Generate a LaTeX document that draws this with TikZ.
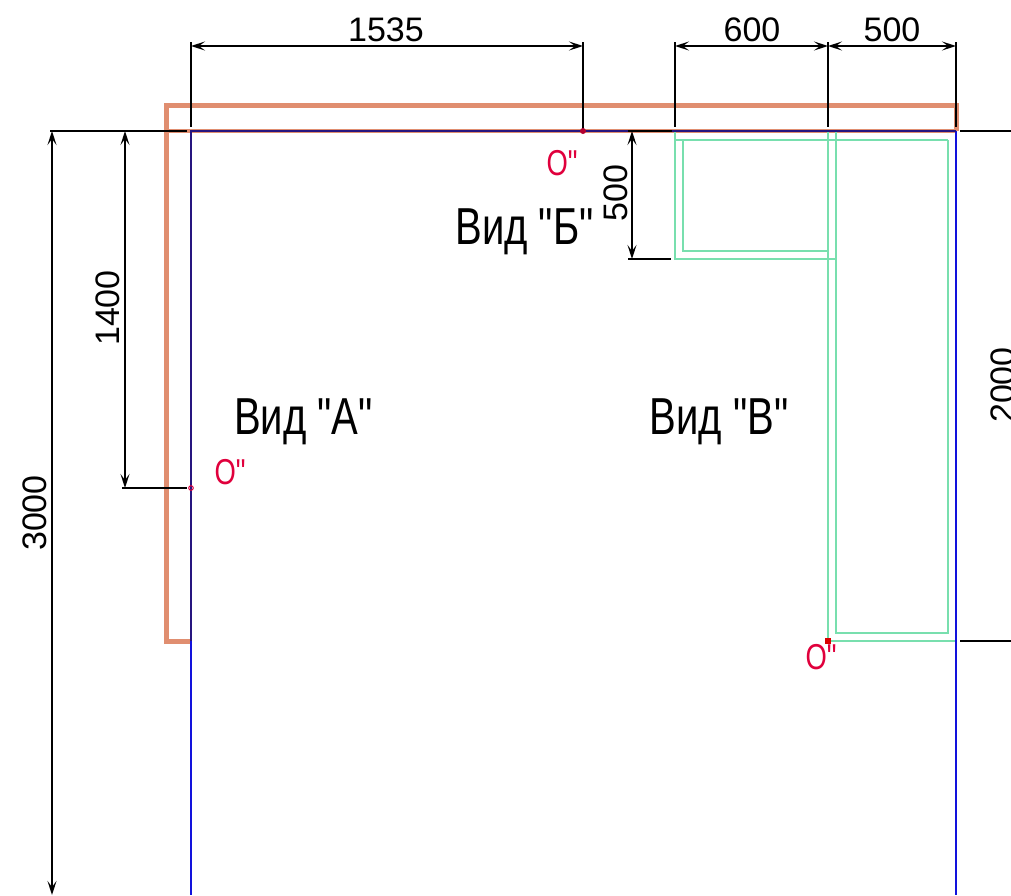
\documentclass[tikz,border=0pt]{standalone}
\usepackage{fontspec}
\newfontfamily\libsans{Liberation Sans}
\usetikzlibrary{arrows.meta}
\definecolor{wallc}{HTML}{E08E70}
\definecolor{greenc}{HTML}{78DFAE}
\definecolor{bluec}{HTML}{1212DC}
\definecolor{navyc}{HTML}{26157F}
\definecolor{redc}{HTML}{E0003C}
\tikzset{
  wall/.style={draw=wallc,line width=5pt,line join=miter},
  wallthin/.style={draw=wallc,line width=4pt},
  cab/.style={draw=greenc,line width=2.2pt},
  edgeblue/.style={draw=bluec,line width=2pt},
  edgenavy/.style={draw=navyc,line width=2pt},
  ext/.style={draw=black,line width=1.8pt},
  dimline/.style={draw=black,line width=1.8pt,{Stealth[length=14pt,width=9pt,inset=6pt]}-{Stealth[length=14pt,width=9pt,inset=6pt]}},
  dimtext/.style={font=\libsans\fontsize{34}{34}\selectfont,inner sep=0pt,text=black},
  viewtext/.style={font=\libsans\fontsize{52}{52}\selectfont,inner sep=0pt,xscale=.77,text=black},
  origtext/.style={font=\libsans\fontsize{36}{36}\selectfont,inner sep=0pt,xscale=.76,text=redc}
}
\begin{document}
\begin{tikzpicture}[x=1pt,y=-1pt]
\useasboundingbox (0,0) rectangle (1011,895);
% named points
\coordinate (TL) at (191,131); \coordinate (TR) at (956,131);
\coordinate (BL) at (191,895); \coordinate (BR) at (956,895);
\coordinate (WL) at (191,641);
\coordinate (P1) at (583,131); \coordinate (P2) at (191,488); \coordinate (P3) at (828,641);
% walls
\draw[wall] (WL) -- (166,641) -- (166,105) -- (956,105) -- (TR);
\draw[wallthin] (166,131) -- (TL) -- (TR);
% cabinets
\draw[cab] (675,131) -- (675,259) -- (836,259);
\draw[cab] (675,140) -- (948,140);
\draw[cab] (683,140) -- (683,251) -- (828,251);
\draw[cab] (828,131) -- (P3) -- (956,641);
\draw[cab] (836,131) -- (836,633) -- (948,633) -- (948,140);
% room edges
\draw[edgeblue] (WL) -- (BL);
\draw[edgeblue] (TR) -- (BR);
\draw[edgenavy] (WL) -- (TL) -- (TR);
% extension lines
\draw[ext] (191,42) -- (191,127);
\draw[ext] (583,42) -- (P1);
\draw[ext] (675,42) -- (675,127);
\draw[ext] (828,42) -- (828,127);
\draw[ext] (956,42) -- (956,127);
\draw[ext] (50,131) -- (187,131);
\draw[ext] (122,488) -- (187,488);
\draw[ext] (628,131) -- (672,131);
\draw[ext] (628,259) -- (671,259);
\draw[ext] (960,131) -- (1011,131);
\draw[ext] (960,641) -- (1011,641);
% dimension lines
\coordinate (D1a) at (191,46); \coordinate (D1b) at (583,46);
\coordinate (D2a) at (675,46); \coordinate (D2b) at (828,46); \coordinate (D3b) at (956,46);
\coordinate (V1a) at (52,131); \coordinate (V1b) at (52,895);
\coordinate (V2a) at (125,131); \coordinate (V2b) at (125,488);
\coordinate (V3a) at (632,131); \coordinate (V3b) at (632,259);
\draw[dimline] (D1a) -- (D1b);
\draw[dimline] (D2a) -- (D2b);
\draw[dimline] (D2b) -- (D3b);
\draw[dimline] (V1a) -- (V1b);
\draw[dimline] (V2a) -- (V2b);
\draw[dimline] (V3a) -- (V3b);
% dimension texts
\node[dimtext] (t1535) at (386,30) {1535};
\node[dimtext] (t600) at (752,30) {600};
\node[dimtext] (t500a) at (892,30) {500};
\node[dimtext,rotate=90] (t500b) at (615.5,193) {500};
\node[dimtext,rotate=90] (t1400) at (107.5,308) {1400};
\node[dimtext,rotate=90] (t3000) at (35,513) {3000};
\node[dimtext,rotate=90] (t2000) at (1003,385) {2000};
% view labels
\node[viewtext] (vA) at (303.5,422) {Вид "А"};
\node[viewtext] (vB) at (524.5,232) {Вид "Б"};
\node[viewtext] (vV) at (719,422) {Вид "В"};
% origins
\node[origtext] (o1) at (562,163) {О"};
\node[origtext] (o2) at (230,472) {О"};
\node[origtext] (o3) at (821,657) {О"};
\fill[redc!80!black] (P1) circle (3pt);
\draw[redc,line width=1pt] (P2) circle (2.3pt);
\fill[red!85!black] (825,638) rectangle (831,644);
\end{tikzpicture}
\end{document}
